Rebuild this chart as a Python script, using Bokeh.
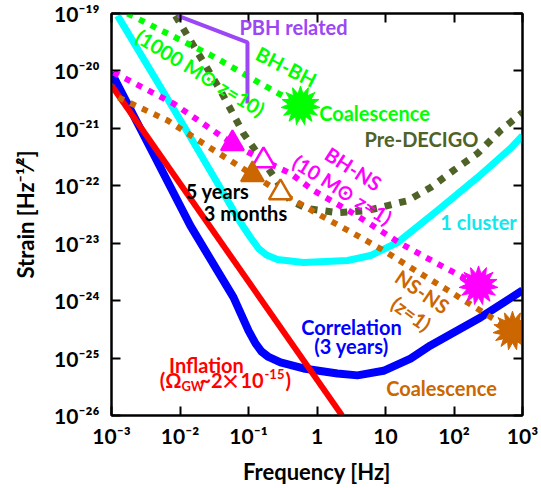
import math
from bokeh.plotting import figure
from bokeh.models import Label, LogAxis, FixedTicker, Range1d
from bokeh.embed import file_html
from bokeh.resources import INLINE

FONT = "Lato"

# ---------------- data ----------------
x_tick_values = [0.001, 0.01, 0.1, 1, 10, 100, 1000]
x_tick_labels = ["10⁻³", "10⁻²", "10⁻¹", "1", "10", "10²", "10³"]
y_tick_values = [1e-19, 1e-20, 1e-21, 1e-22, 1e-23, 1e-24, 1e-25, 1e-26]
y_tick_labels = ["10⁻¹⁹", "10⁻²⁰", "10⁻²¹", "10⁻²²", "10⁻²³", "10⁻²⁴", "10⁻²⁵", "10⁻²⁶"]

corr_freq = [0.001, 0.00371, 0.01422, 0.0604, 0.1, 0.1265, 0.1549, 0.196, 0.293,
             0.635, 1.99, 3.9, 9.35, 23.2, 45.4, 244, 1000]
corr_strain = [9.3e-21, 4.5e-22, 2.0e-23, 1.14e-24, 3.0e-25, 1.8e-25, 1.3e-25, 1.045e-25, 8.4e-26,
               6.6e-26, 5.4e-26, 5.0e-26, 6.0e-26, 9.8e-26, 1.66e-25, 5.1e-25, 1.51e-24]

infl_freq = [0.001, 2.32]
infl_strain = [5.57e-21, 1e-26]

cluster_freq = [0.001225, 0.01245, 0.0478, 0.0764, 0.1069, 0.140, 0.183, 0.265, 0.635,
                2.79, 6.04, 15.0, 57.4, 220, 668, 1000]
cluster_strain = [9.2e-20, 9.2e-22, 6.0e-23, 2.30e-23, 1.26e-23, 8.09e-24, 6.24e-24, 5.21e-24, 4.6e-24,
                  5.0e-24, 6.1e-24, 1.03e-23, 3.7e-23, 1.39e-22, 4.46e-22, 7.5e-22]

predecigo_freq = [0.00859, 0.039, 0.0845, 0.189, 0.41, 0.726, 1.99, 5.46, 20.9, 45.4, 98.4, 220, 478, 1000]
predecigo_strain = [9.2e-20, 4.56e-21, 8.15e-22, 2.08e-22, 5.5e-23, 4.0e-23, 3.4e-23, 3.7e-23,
                    5.5e-23, 9.3e-23, 1.85e-22, 3.65e-22, 9.2e-22, 1.89e-21]

bhns_freq = [0.00107, 0.00804, 0.0352, 0.0583, 0.1656, 0.41, 0.889, 3.41, 16.6, 57.4, 228]
bhns_strain = [9.4e-21, 2.71e-21, 8.15e-22, 5.45e-22, 2.75e-22, 1.64e-22, 8.3e-23, 3.29e-23,
               9.9e-24, 4.4e-24, 1.84e-24]

nsns_freq = [0.001265, 0.00658, 0.0352, 0.1143, 0.293, 1.125, 3.41, 9.35, 23.2, 70.3, 270, 714]
nsns_strain = [3.44e-21, 1.37e-21, 3.8e-22, 1.57e-22, 7.6e-23, 3.04e-23, 1.48e-23, 7.5e-24,
               3.78e-24, 1.69e-24, 6.2e-25, 3.0e-25]

bhbh_freq = [0.001714, 0.00658, 0.0308, 0.1496, 0.574]
bhbh_strain = [1e-19, 4.48e-20, 1.78e-20, 6.04e-21, 2.5e-21]

pbh_freq = [0.0092, 0.0966, 0.0966]
pbh_strain = [9.2e-20, 3.13e-20, 2.71e-21]

# coalescence points (end of each inspiral track)
coal_freq = [0.574, 228, 714]
coal_strain = [2.5e-21, 1.84e-24, 3.0e-25]
coal_color = ["#00FF00", "#FF00FF", "#CC6600"]

# observation-time markers: 5 years (filled) / 3 months (open)
bhns_tri_freq = [0.0583, 0.1656]
bhns_tri_strain = [5.45e-22, 2.75e-22]
nsns_tri_freq = [0.1143, 0.293]
nsns_tri_strain = [1.57e-22, 7.6e-23]

# ---------------- figure ----------------
p = figure(width=541, height=488, x_axis_type="log", y_axis_type="log",
           x_range=Range1d(1e-3, 1e3), y_range=Range1d(1e-26, 1e-19),
           output_backend="svg", toolbar_location=None,
           min_border_left=111, min_border_right=19, min_border_top=13, min_border_bottom=73)
p.grid.visible = False
p.background_fill_color = "white"
p.border_fill_color = "white"
p.outline_line_color = "black"
p.outline_line_width = 2

p.add_layout(LogAxis(), "above")
p.add_layout(LogAxis(), "right")


def style_axis(ax, ticks, labels=None):
    ax.ticker = FixedTicker(ticks=ticks)
    ax.major_tick_in = 9
    ax.major_tick_out = 0
    ax.minor_tick_line_color = None
    ax.major_tick_line_width = 2
    ax.major_tick_line_color = "black"
    ax.axis_line_width = 2
    ax.axis_line_color = "black"
    if labels is None:
        ax.major_label_text_font_size = "1px"
        ax.major_label_text_color = None
        ax.major_label_standoff = 0
    else:
        ax.major_label_overrides = dict(zip(ticks, labels))
        ax.major_label_text_font = FONT
        ax.major_label_text_font_style = "bold"
        ax.major_label_text_font_size = "21px"
        ax.major_label_text_color = "black"
        ax.axis_label_text_font = FONT
        ax.axis_label_text_font_style = "bold"
        ax.axis_label_text_font_size = "22px"
        ax.axis_label_text_color = "black"


for ax in p.xaxis:
    style_axis(ax, x_tick_values)
for ax in p.yaxis:
    style_axis(ax, y_tick_values)
style_axis(p.below[0], x_tick_values, x_tick_labels)
style_axis(p.left[0], y_tick_values, y_tick_labels)
p.below[0].major_label_standoff = 7
p.below[0].axis_label = "Frequency [Hz]"
p.below[0].axis_label_standoff = 7
p.left[0].major_label_standoff = 12
p.left[0].axis_label = "Strain [Hz⁻¹⁄²]"
p.left[0].axis_label_standoff = 12

# ---------------- curves ----------------
p.line(cluster_freq, cluster_strain, line_color="#00FFFF", line_width=7, line_join="round")
p.line(corr_freq, corr_strain, line_color="#0000FF", line_width=8, line_join="round")
p.line(infl_freq, infl_strain, line_color="#FF0000", line_width=6)

dot = dict(line_cap="butt", line_join="miter")
p.line(predecigo_freq, predecigo_strain, line_color="#4F6228", line_width=7, line_dash="7 8", **dot)
p.line(nsns_freq, nsns_strain, line_color="#CC6600", line_width=6, line_dash="6 7", **dot)
p.line(bhns_freq, bhns_strain, line_color="#FF00FF", line_width=6, line_dash="6 7", **dot)
p.line(bhbh_freq, bhbh_strain, line_color="#00FF00", line_width=6, line_dash="6 7", **dot)
p.line(pbh_freq, pbh_strain, line_color="#9B47F5", line_width=4)

# triangles
p.scatter(bhns_tri_freq[:1], bhns_tri_strain[:1], marker="triangle", size=23,
          fill_color="#FF00FF", line_color="#FF00FF", line_width=2)
p.scatter(bhns_tri_freq[1:], bhns_tri_strain[1:], marker="triangle", size=23,
          fill_color="white", line_color="#FF00FF", line_width=2.5)
p.scatter(nsns_tri_freq[:1], nsns_tri_strain[:1], marker="triangle", size=23,
          fill_color="#CC6600", line_color="#CC6600", line_width=2)
p.scatter(nsns_tri_freq[1:], nsns_tri_strain[1:], marker="triangle", size=23,
          fill_color="white", line_color="#CC6600", line_width=2.5)

# explosion stars
for ang in (0.0, 0.42, 0.84):
    p.scatter(coal_freq, coal_strain, marker="star", size=39, angle=ang,
              fill_color=coal_color, line_color=coal_color)
p.scatter(coal_freq, coal_strain, marker="circle", size=20, fill_color=coal_color, line_color=coal_color)


# ---------------- texts ----------------
def P(xi, yi):
    return 10 ** (-3 + (xi - 111) / 68.5), 10 ** (-19 - (yi - 13) / 57.43)


def put(text, xi, yi, color, size=20, angle=0.0, align="center", font=FONT):
    f, h = P(xi, yi)
    p.add_layout(Label(x=f, y=h, text=text, text_color=color, text_font=font,
                       text_font_style="bold", text_font_size=f"{size}px", angle=angle,
                       text_align=align, text_baseline="middle"))


put("PBH related", 293, 27, "#9B47F5")
put("BH-BH", 286, 66, "#00FF00", angle=-0.47)
put("(1000 M⊙ z=10)", 200, 72, "#00FF00", angle=-0.55)
put("Coalescence", 374, 113, "#00FF00")
put("Pre-DECIGO", 421, 139, "#4F6228")
put("BH-NS", 353, 168, "#FF00FF", angle=-0.57)
put("(10 M⊙ z=1)", 342, 189, "#FF00FF", angle=-0.56)
put("1 cluster", 478, 222, "#11E8EE")
put("5 years", 217, 191, "black")
put("3 months", 245, 213, "black")
put("NS-NS", 422, 291, "#CC6600", angle=-0.6)
put("(z=1)", 411, 313, "#CC6600", angle=-0.63)
put("Correlation", 351, 327, "#0000FF")
put("(3 years)", 351, 346, "#0000FF")
put("Inflation", 206, 365, "#FF0000")
put("(Ω", 181, 380, "#FF0000", align="right")
put("GW", 181, 386, "#FF0000", size=13, align="left")
put("~2", 199, 380, "#FF0000", align="left")
put("×", 230, 380, "#FF0000", size=20, font="Noto Sans CJK JP")
put("10", 240, 380, "#FF0000", align="left")
put("-15", 264, 374, "#FF0000", size=13, align="left")
put(")", 285, 380, "#FF0000", align="left")
put("Coalescence", 441, 388, "#CC6600")

open("out.html", "w").write(file_html(p, INLINE))
